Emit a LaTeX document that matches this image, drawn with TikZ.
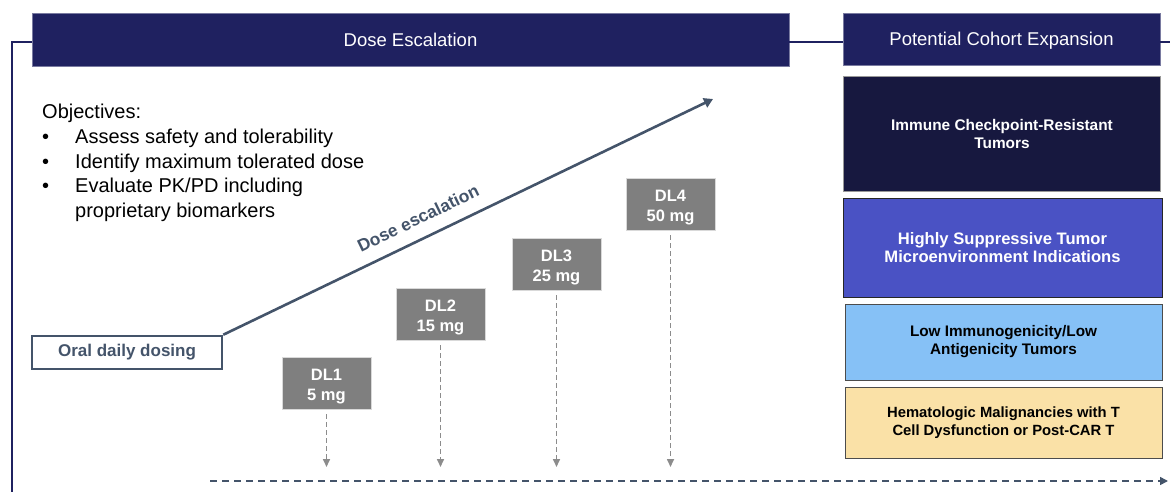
\documentclass[tikz,border=0pt]{standalone}
\usepackage{fontspec}
\setmainfont{Liberation Sans}
\usetikzlibrary{arrows,arrows.meta,positioning}
\definecolor{navy}{HTML}{1F2160}
\definecolor{deepnavy}{HTML}{17183F}
\definecolor{indigo}{HTML}{4A52C4}
\definecolor{skyblue}{HTML}{86C1F6}
\definecolor{sand}{HTML}{FAE1A7}
\definecolor{slate}{HTML}{44546A}
\definecolor{doseGray}{HTML}{7F7F7F}
\tikzset
{
    banner/.style  = {rectangle, fill=navy, draw=navy!60!white, line width=0.6pt, text=white, font=\fontsize{18.5}{22}\selectfont, text height=16pt, text depth=2pt, inner sep=0pt},
    cohort/.style  = {rectangle, draw=black!70, line width=0.8pt, align=center, inner sep=0pt, font=\bfseries\fontsize{#1}{18}\selectfont, minimum width=317pt},
    doselevel/.style = {rectangle, fill=doseGray, draw=black!15, line width=0.5pt, text=white, align=center, font=\bfseries\fontsize{16.5}{20}\selectfont, text height=38pt, text depth=3.5pt, minimum width=89pt, minimum height=52pt, inner sep=0pt},
    startbox/.style = {rectangle, draw=slate, line width=2.5pt, text=slate, font=\bfseries\fontsize{17}{20}\selectfont, minimum width=190pt, minimum height=33pt, inner sep=0pt},
    frame/.style   = {navy, line width=1.6pt},
    arrow/.style   = {slate, line width=2.6pt, -{Triangle[length=9pt, width=10pt]}},
    drop/.style    = {doseGray!90, line width=1.6pt, dash pattern=on 5pt off 3pt, -{Triangle[length=8pt, width=7pt]}},
    timeline/.style = {slate, line width=1.6pt, dash pattern=on 7pt off 5pt, -{Triangle[length=8pt, width=8pt]}},
    objtext/.style = {anchor=base west, inner sep=0pt, font=\fontsize{20}{24.5}\selectfont}
}
\begin{document}
\begin{tikzpicture}[x=1pt, y=-1pt]
   \newcommand\DROPY{467}
   \useasboundingbox (0,0) rectangle (1170,492);

   % headers
   \node (esc)  [banner, minimum width=757pt, minimum height=53pt] at (410.5, 39.5) {Dose Escalation};
   \node (pce)  [banner, minimum width=317pt, minimum height=52pt] at (1001.5, 39) {Potential Cohort Expansion};
   \coordinate (ftop) at (12, 42);
   \coordinate (fbot) at (12, 492);
   \coordinate (fend) at (1170, 42);

   % cohorts
   \node (c1) [cohort=15.4, fill=deepnavy, text=white, draw=black!40, minimum height=115pt] at (1002, 133.5) {Immune Checkpoint-Resistant\\Tumors};
   \node (c2) [cohort=16.6, fill=indigo, text=white, draw=black!85, minimum width=319pt, minimum height=99pt] at (1002.5, 247.5) {Highly Suppressive Tumor\\Microenvironment Indications};
   \node (c3) [cohort=15.3, fill=skyblue, minimum height=76pt] at (1003.5, 342) {Low Immunogenicity/Low\\Antigenicity Tumors};
   \node (c4) [cohort=14.8, fill=sand, minimum height=71pt] at (1003.5, 422.5) {Hematologic Malignancies with T\\Cell Dysfunction or Post-CAR T};

   % objectives
   \node (obj) [objtext] at (42, 119) {Objectives:};
   \foreach \txt [count=\i] in {Assess safety and tolerability, Identify maximum tolerated dose, Evaluate PK/PD including}
   {
      \node (b\i) [objtext] at (42, 119+24.5*\i) {\textbullet};
      \node (o\i) [objtext] at (75, 119+24.5*\i) {\txt};
   }
   \node (o4) [objtext] at (75, 217) {proprietary biomarkers};

   % escalation
   \node (oral) [startbox] at (127, 352.5) {Oral daily dosing};
   \coordinate (top) at (713, 99);

   \node (dl1) [doselevel] at (326.5, 383) {DL1\\5 mg};
   \node (dl2) [doselevel] at (440.5, 314) {DL2\\15 mg};
   \node (dl3) [doselevel] at (556.5, 264) {DL3\\25 mg};
   \node (dl4) [doselevel] at (670.5, 204) {DL4\\50 mg};

   \coordinate (tl0) at (210, 481);
   \coordinate (tl1) at (1168, 481);

   \draw[frame] (esc.west |- ftop) -- (ftop) -- (fbot);
   \draw[frame] (esc.east |- ftop) -- (pce.west |- ftop);
   \draw[frame] (pce.east |- ftop) -- (fend);

   \draw[arrow] (oral.north east) -- node[pos=0.416, sloped, above=12.8pt, inner sep=0pt, text=slate, font=\bfseries\fontsize{17.4}{20}\selectfont] (lbl) {Dose escalation} (top);

   \foreach \d in {dl1, dl2, dl3, dl4}
      \draw[drop] (\d.south) ++(0,5) -- (\d.south |- 0,\DROPY);

   \draw[timeline] (tl0) -- (tl1);
\end{tikzpicture}
\end{document}
